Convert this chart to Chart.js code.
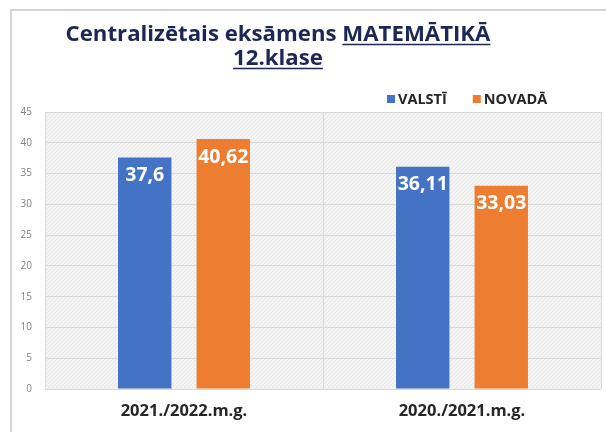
<!DOCTYPE html>
<html>
<head>
<meta charset="utf-8">
<script src="https://cdn.jsdelivr.net/npm/chart.js@4.4.1/dist/chart.umd.min.js"></script>
<style>
  html, body { margin: 0; padding: 0; background: #fff; }
  #c { display: block; }
</style>
</head>
<body>
<canvas id="c" width="606" height="432"></canvas>
<script>
// dati
const kategorijas = ['2021./2022.m.g.', '2020./2021.m.g.'];
const valsti = [37.6, 36.11];
const novada = [40.62, 33.03];
const sērijas = ['VALSTĪ', 'NOVADĀ'];
const krasas = ['#4472C4', '#ED7D31'];
const yMax = 45;
const ySolis = 5;

const FONT = '"Open Sans", "DejaVu Sans", sans-serif';

// svītrots fons zīmējuma laukumam
function taisitRakstu(ctx) {
    const p = document.createElement('canvas');
    p.width = 4; p.height = 4;
    const g = p.getContext('2d');
    g.fillStyle = '#f4f4f4';
    g.fillRect(0, 0, 4, 4);
    g.fillStyle = '#e7e7e7';
    for (let i = 0; i < 4; i++) g.fillRect(i, 3 - i, 1, 1);
    return ctx.createPattern(p, 'repeat');
}

function komats(v) {
    return String(v).replace('.', ',');
}

const dekors = {
    id: 'dekors',
    beforeDraw(chart) {
        const ctx = chart.ctx;
        const a = chart.chartArea;
        ctx.save();
        ctx.fillStyle = '#fff';
        ctx.fillRect(0, 0, chart.width, chart.height);
        // rāmis
        ctx.strokeStyle = '#d4d4d4';
        ctx.lineWidth = 2;
        ctx.beginPath();
        ctx.moveTo(chart.width, 10);
        ctx.lineTo(11, 10);
        ctx.lineTo(11, chart.height);
        ctx.stroke();
        ctx.fillStyle = taisitRakstu(ctx);
        ctx.fillRect(a.left, a.top, a.right - a.left, a.bottom - a.top);
        ctx.restore();
    },
    afterDatasetsDraw(chart) {
        const ctx = chart.ctx;
        ctx.save();
        ctx.fillStyle = '#fff';
        ctx.font = 'bold 19.5px ' + FONT;
        ctx.textAlign = 'center';
        ctx.textBaseline = 'middle';
        chart.data.datasets.forEach((ds, di) => {
            chart.getDatasetMeta(di).data.forEach((bar, i) => {
                ctx.fillText(komats(ds.data[i]), bar.x, bar.y + 18);
            });
        });
        ctx.restore();
    },
    afterDraw(chart) {
        const ctx = chart.ctx;
        ctx.save();
        // virsraksts
        const r1a = 'Centralizētais eksāmens ';
        const r1b = 'MATEMĀTIKĀ';
        const r2 = '12.klase';
        let fs = 20;
        ctx.font = 'bold ' + fs + 'px ' + FONT;
        fs = fs * 425 / ctx.measureText(r1a + r1b).width;
        ctx.font = 'bold ' + fs + 'px ' + FONT;
        ctx.fillStyle = '#1c2755';
        ctx.strokeStyle = '#1c2755';
        ctx.textBaseline = 'alphabetic';
        ctx.textAlign = 'left';
        const cx = 278;
        const wA = ctx.measureText(r1a).width;
        const wB = ctx.measureText(r1b).width;
        const x1 = cx - (wA + wB) / 2;
        ctx.fillText(r1a, x1, 41);
        ctx.fillText(r1b, x1 + wA, 41);
        ctx.lineWidth = 1.5;
        ctx.beginPath();
        ctx.moveTo(x1 + wA, 44.5); ctx.lineTo(x1 + wA + wB, 44.5);
        const w2 = ctx.measureText(r2).width;
        ctx.fillText(r2, cx - w2 / 2, 65);
        ctx.moveTo(cx - w2 / 2, 68.5); ctx.lineTo(cx + w2 / 2, 68.5);
        ctx.stroke();

        // leģenda
        ctx.font = 'bold 14.5px ' + FONT;
        ctx.textBaseline = 'alphabetic';
        let x = 387;
        sērijas.forEach((n, i) => {
            ctx.fillStyle = krasas[i];
            ctx.fillRect(x, 95, 8, 8);
            x += 11;
            ctx.fillStyle = '#262626';
            ctx.fillText(n, x, 104);
            x += ctx.measureText(n).width + 26;
        });
        ctx.restore();
    }
};

new Chart(document.getElementById('c'), {
    type: 'bar',
    data: {
        labels: kategorijas,
        datasets: [
            { label: sērijas[0], data: valsti, backgroundColor: krasas[0],
              categoryPercentage: 0.565, barPercentage: 0.68 },
            { label: sērijas[1], data: novada, backgroundColor: krasas[1],
              categoryPercentage: 0.565, barPercentage: 0.68 }
        ]
    },
    options: {
        responsive: false,
        animation: false,
        devicePixelRatio: 1,
        layout: { padding: { top: 112, right: 5, left: 0, bottom: 0 } },
        plugins: {
            legend: { display: false },
            title: { display: false },
            tooltip: { enabled: false }
        },
        scales: {
            x: {
                grid: { color: '#d9d9d9', drawTicks: false, offset: true },
                border: { display: false },
                ticks: { color: '#262626', font: { family: FONT, size: 16.5, weight: 'bold' }, padding: 12 },
                afterFit(s) { s.height = 43; }
            },
            y: {
                min: 0, max: yMax,
                grid: { color: '#d9d9d9', drawTicks: false },
                border: { display: false },
                ticks: { stepSize: ySolis, color: '#808080', font: { family: FONT, size: 10 }, padding: 13 },
                afterFit(s) { s.width = 45; }
            }
        }
    },
    plugins: [dekors]
});
</script>
</body>
</html>
